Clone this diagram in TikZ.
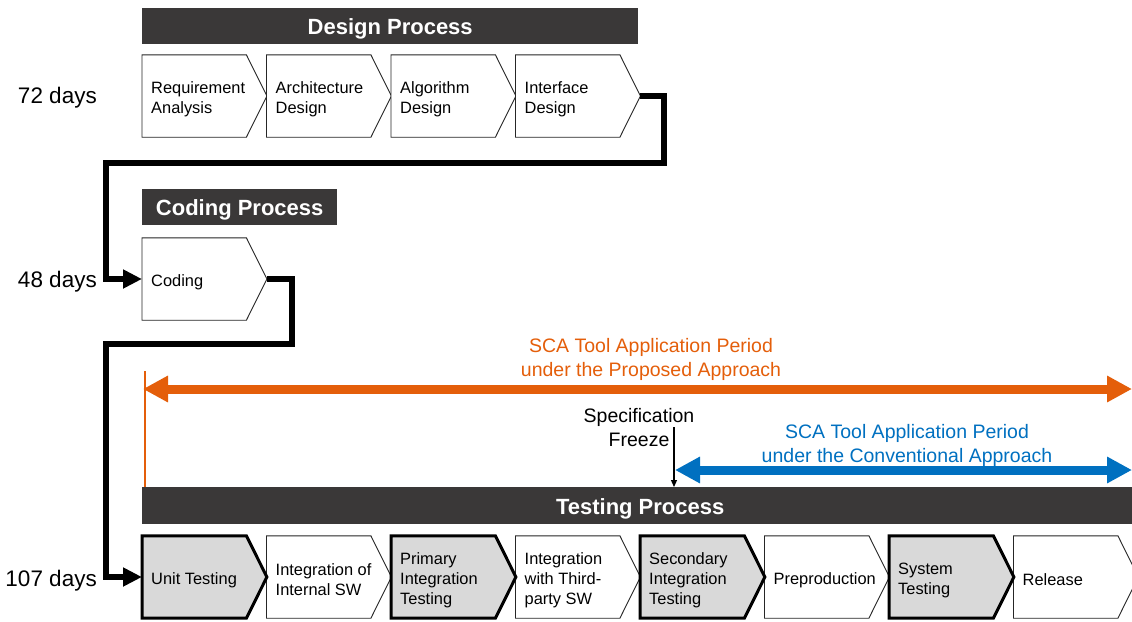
\documentclass[tikz,border=0pt]{standalone}
\usepackage{fontspec}
\setmainfont{Liberation Sans}
\usetikzlibrary{arrows.meta,calc}

\definecolor{barc}{RGB}{58,56,56}
\definecolor{boxgrey}{RGB}{217,217,217}
\definecolor{propc}{RGB}{228,94,10}
\definecolor{convc}{RGB}{0,112,192}

% chevron: #1 name, #2 west point, #3 outline style, #4 label
\newcommand\chevron[4]{%
  \node[chev, anchor=west] (#1) at (#2) {};
  \coordinate (#1-tip) at ([xshift=20.5pt]#1.east);
  \path[#3] (#1.north west) -- (#1.north east) -- (#1-tip)
            -- (#1.south east) -- (#1.south west) -- cycle;
  \node[boxtext, anchor=west] (#1-text) at ([xshift=9pt,yshift=-3pt]#1.west) {#4};
}

\begin{document}
\begin{tikzpicture}[x=1pt, y=-1pt,
  chev/.style={shape=rectangle, draw=none, inner sep=0pt,
               minimum width=104pt, minimum height=82pt},
  plainbox/.style={fill=white, draw=black!85, line width=0.9pt},
  keybox/.style={fill=boxgrey, draw=black, line width=3pt},
  boxtext/.style={inner sep=0pt, align=left,
                  font=\fontsize{16.4}{20}\selectfont},
  bar/.style={fill=barc, inner sep=0pt},
  barlabel/.style={inner sep=0pt, text=white, yshift=-3pt,
              font=\bfseries\fontsize{22}{24}\selectfont},
  days/.style={inner sep=0pt, anchor=east,
               font=\fontsize{22.5}{26}\selectfont},
  note/.style={inner sep=0pt, align=center,
               font=\fontsize{19.5}{24}\selectfont},
  flow/.style={line width=6pt, draw=black,
               -{Triangle[length=19pt 0 0, width=18pt 0 0]}},
  scaarrow/.style={line width=9pt,
               {Triangle[length=25pt 0 0, width=25pt 0 0]}-{Triangle[length=25pt 0 0, width=25pt 0 0]}},
  freezearrow/.style={line width=1.2pt, draw=black,
               -{Triangle[length=7pt 0 0, width=6pt 0 0]}}
]
\useasboundingbox (0,0) rectangle (1132,621);
\clip (0,0) rectangle (1132,621);

% process headers
\node[bar, minimum width=496pt, minimum height=36pt, anchor=north west,
  label={[barlabel]center:Design Process}] (designbar) at (142,8) {};
\node[bar, minimum width=195pt, minimum height=36pt, anchor=north west,
  label={[barlabel]center:Coding Process}] (codingbar) at (142,189) {};
\node[bar, minimum width=996pt, minimum height=37pt, anchor=north west,
  label={[barlabel]center:Testing Process}] (testbar) at (142,487) {};

% durations
\node[days] (days72) at (97,98) {72 days};
\node[days] (days48) at (97,282) {48 days};
\node[days] (days107) at (97,581) {107 days};

% design steps
\chevron{d1}{142,96}{plainbox}{Requirement\\Analysis}
\chevron{d2}{266.5,96}{plainbox}{Architecture\\Design}
\chevron{d3}{391,96}{plainbox}{Algorithm\\Design}
\chevron{d4}{515.5,96}{plainbox}{Interface\\Design}

% coding step
\chevron{c1}{142,279}{plainbox}{Coding}

% testing steps
\chevron{t2}{266.5,577}{plainbox}{Integration of\\Internal SW}
\chevron{t4}{515.5,577}{plainbox}{Integration\\with Third-\\party SW}
\chevron{t6}{764.5,577}{plainbox}{Preproduction}
\chevron{t8}{1013.5,577}{plainbox}{Release}
\chevron{t1}{142,577}{keybox}{Unit Testing}
\chevron{t3}{391,577}{keybox}{Primary\\Integration\\Testing}
\chevron{t5}{640,577}{keybox}{Secondary\\Integration\\Testing}
\chevron{t7}{889,577}{keybox}{System\\Testing}

% flow between the processes
\draw[flow] (d4-tip) -| ++(24,67) -| ([xshift=-36pt]c1.west) -- (c1.west);
\draw[flow] (c1-tip) -| ++(25,65) -| ([xshift=-36pt]t1.west) -- (t1.west);

% SCA application period, proposed approach
\coordinate (propTick) at (144.5,371);
\draw[propc, line width=2pt] (propTick) -- (propTick |- testbar.north);
\coordinate (propL) at (143,389);
\coordinate (propR) at (1132,389);
\draw[scaarrow, propc] (propL) -- (propR);
\node[note, text=propc] (proptext) at (651,359)
  {SCA Tool Application Period\\under the Proposed Approach};

% specification freeze
\node[note] (freeze) at (639,428) {Specification\\Freeze};
\coordinate (freezeTop) at (674,427);
\draw[freezearrow] (freezeTop) -- (freezeTop |- testbar.north);

% SCA application period, conventional approach
\coordinate (convL) at (675,470);
\coordinate (convR) at (1132,470);
\draw[scaarrow, convc] (convL) -- (convR);
\node[note, text=convc] (convtext) at (907,445)
  {SCA Tool Application Period\\under the Conventional Approach};
\end{tikzpicture}
\end{document}
